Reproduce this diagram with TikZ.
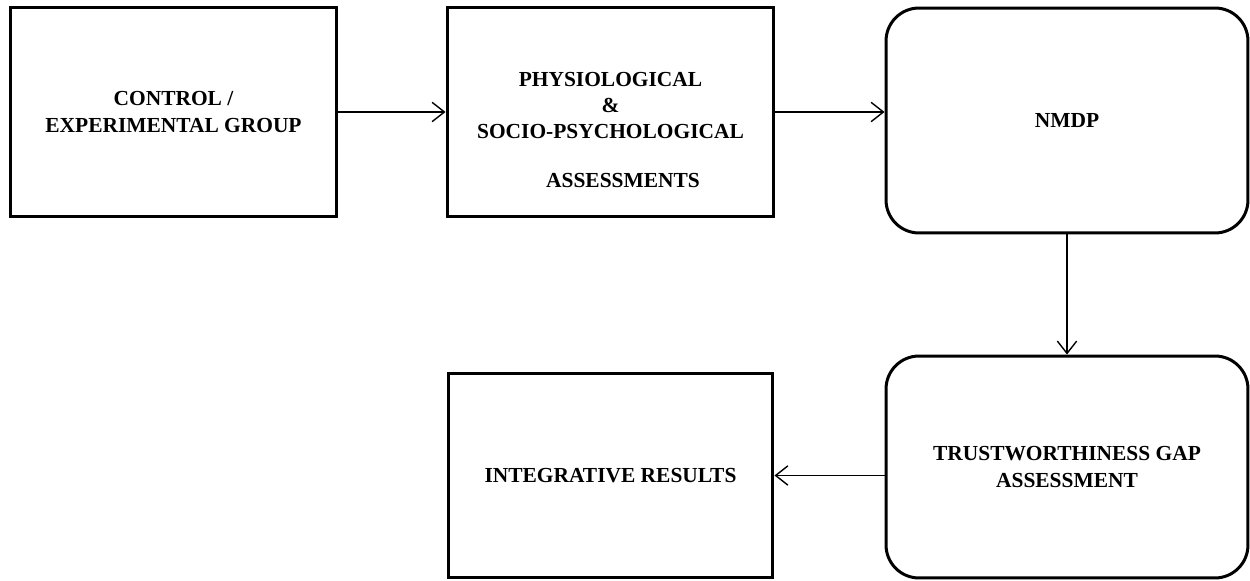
\documentclass[tikz,border=0pt]{standalone}
\usepackage{fontspec}
\setmainfont{Liberation Serif}
\usetikzlibrary{arrows.meta}

\tikzset{
  block/.style = {draw, line width=1.7pt, inner sep=0pt, align=center,
                  font=\fontsize{12.2}{15}\selectfont\bfseries},
  rblock/.style = {block, rounded corners=0.66cm},
  flow/.style = {line width=0.8pt, -{Straight Barb[length=7pt,width=11pt]}}
}

\begin{document}
\begin{tikzpicture}[x=0.02cm,y=0.02cm]
\useasboundingbox (0,0) rectangle (1250,581);
%---top row-------------------------------------------
\node[block, minimum width=6.54cm, minimum height=4.2cm] (group) at (173.5,469)
    {CONTROL /\\EXPERIMENTAL GROUP};
\node[block, minimum width=6.54cm, minimum height=4.2cm] (assess) at (610.5,469) {};
\node[font=\fontsize{12.2}{15}\selectfont\bfseries, align=center] (assesstext) at (610.5,451)
    {PHYSIOLOGICAL\\\&\\SOCIO-PSYCHOLOGICAL\\[13pt]\hspace*{0.5cm}ASSESSMENTS};
\node[rblock, minimum width=7.24cm, minimum height=4.5cm] (nmdp) at (1067,460.5) {NMDP};
%---bottom row----------------------------------------
\node[rblock, minimum width=7.24cm, minimum height=4.44cm] (gap) at (1067,114)
    {TRUSTWORTHINESS GAP\\ASSESSMENT};
\node[block, minimum width=6.5cm, minimum height=4.1cm] (results) at (610.5,105.5)
    {INTEGRATIVE RESULTS};
%---arrows--------------------------------------------
\draw[flow] (group.east) -- (assess.west);
\draw[flow] (assess.east) -- (assess.east -| nmdp.west);
\draw[flow] (nmdp.south) -- (gap.north);
\draw[flow] (results.east -| gap.west) -- (results.east);
\end{tikzpicture}
\end{document}
